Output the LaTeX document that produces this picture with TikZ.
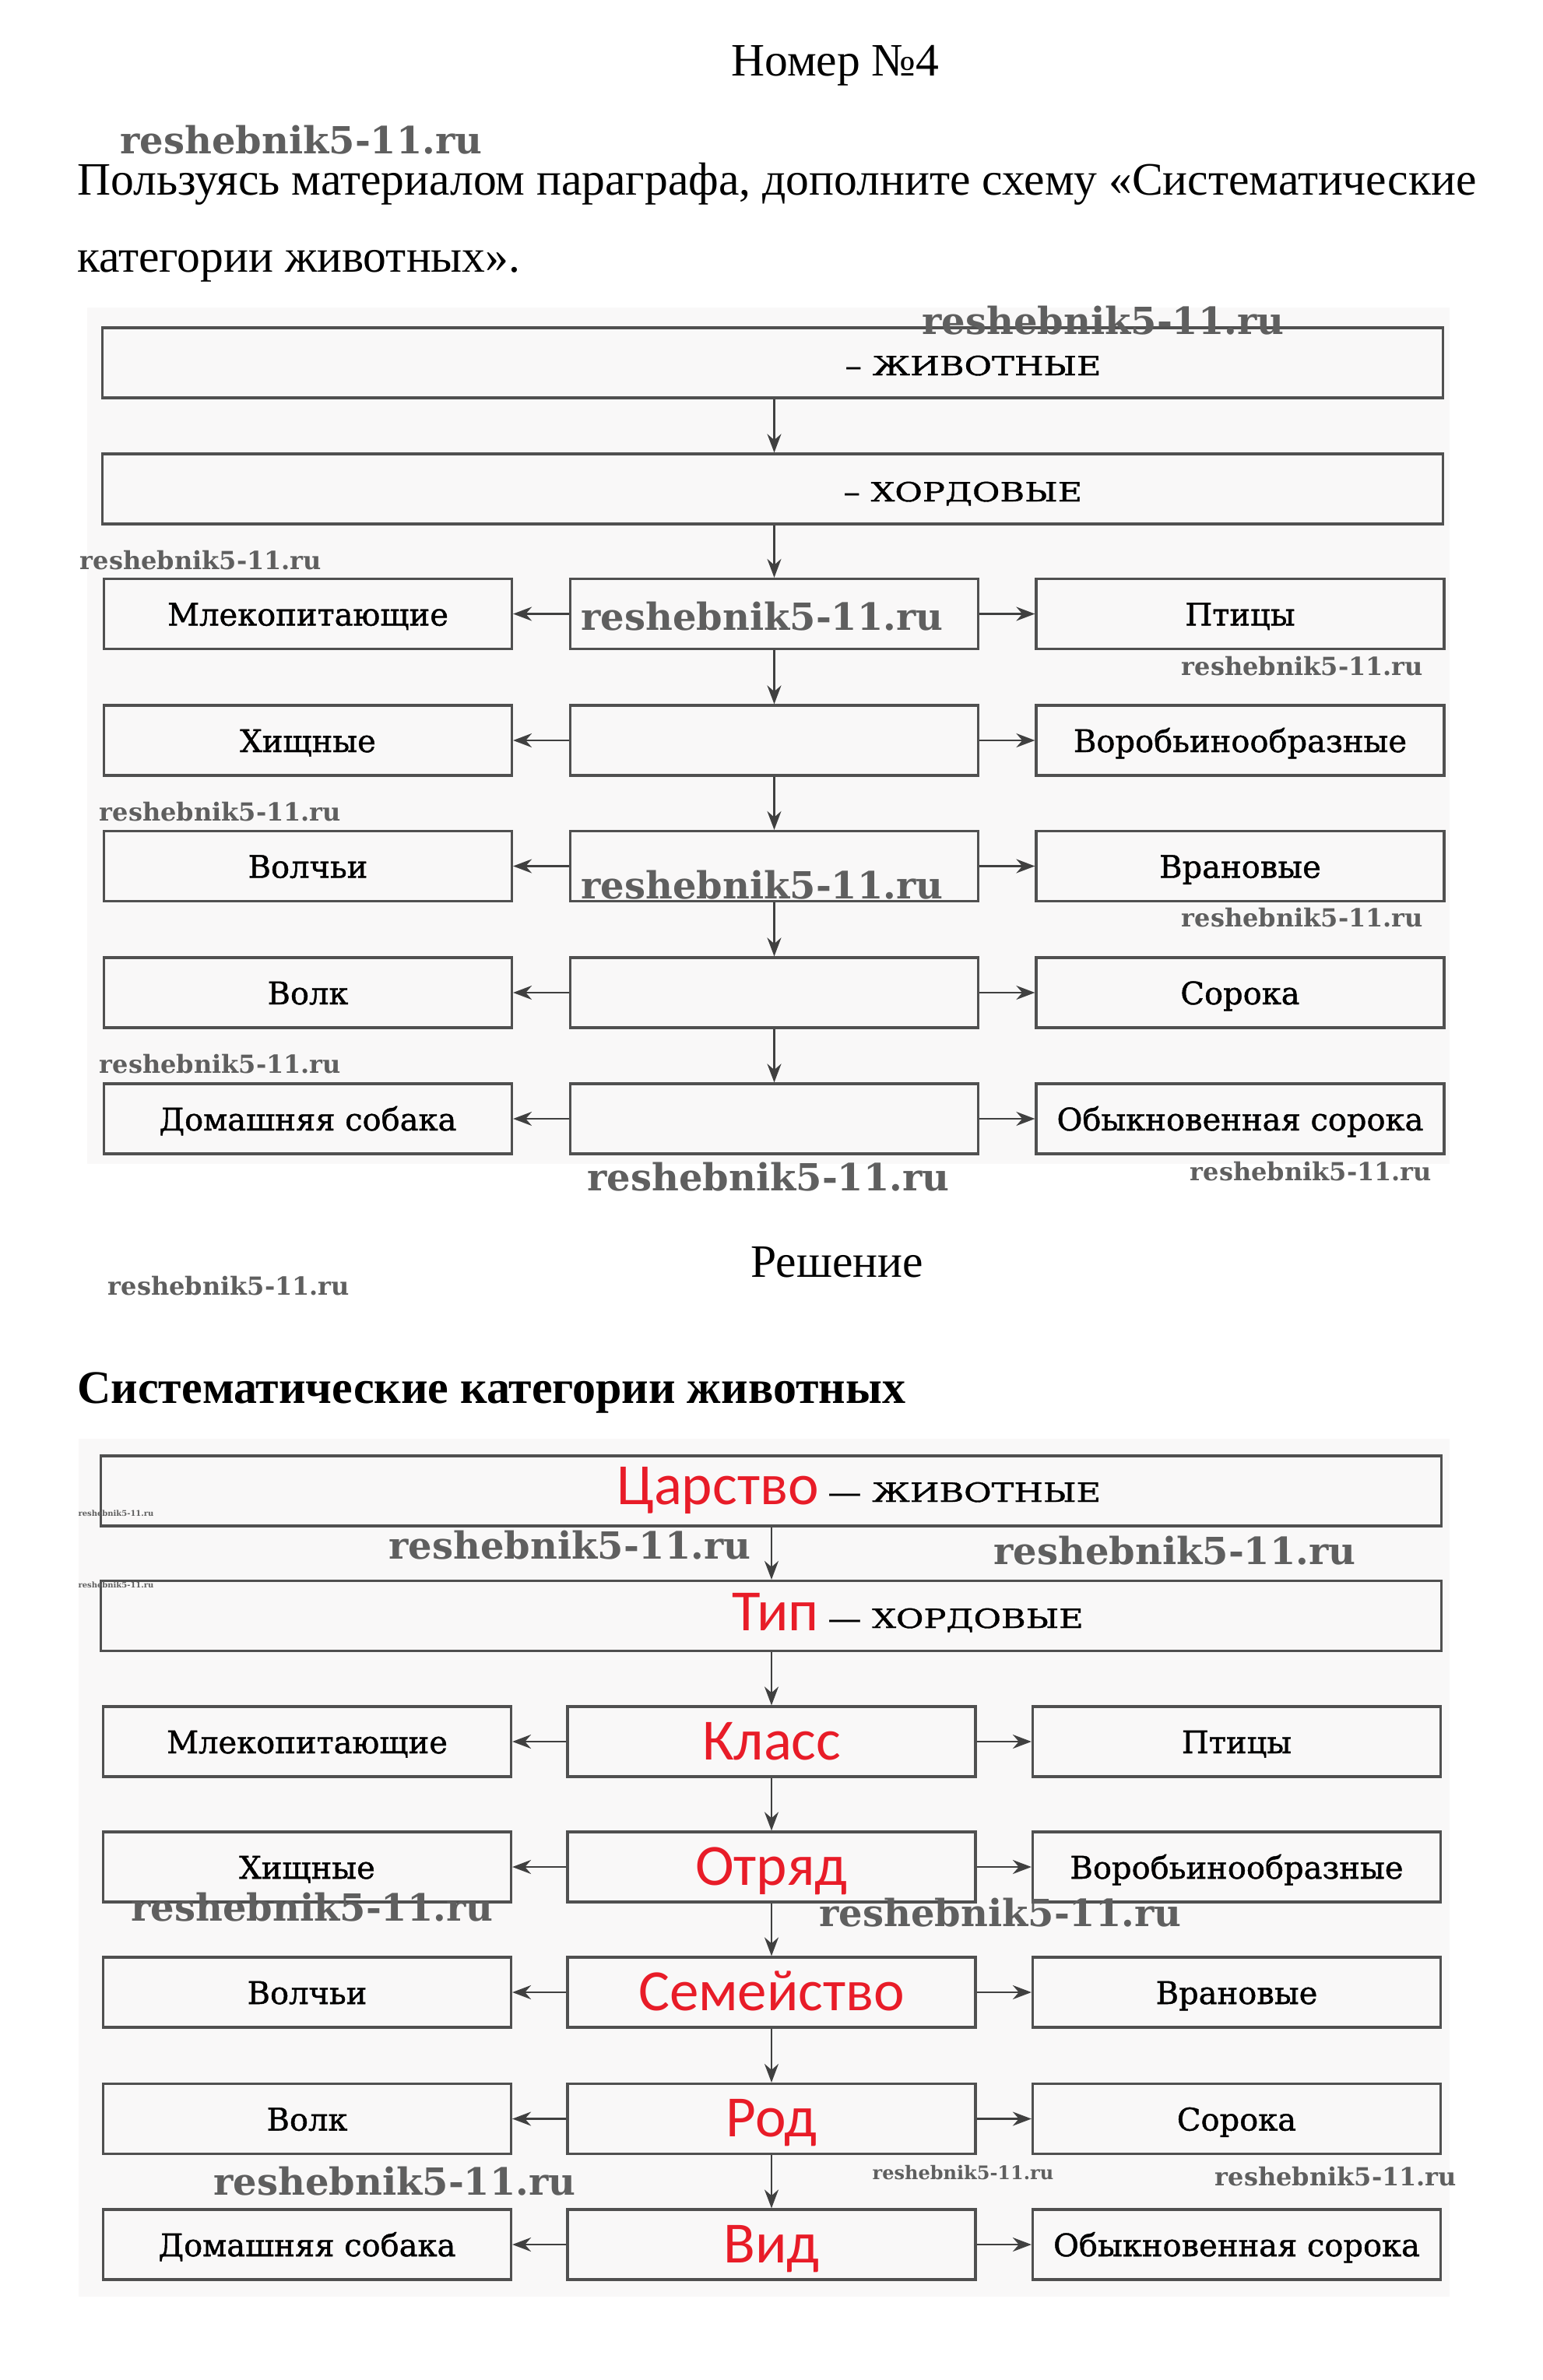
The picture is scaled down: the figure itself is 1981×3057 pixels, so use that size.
\documentclass[tikz,border=0pt]{standalone}
\usepackage{fontspec}
\setmainfont{Liberation Serif}
\newfontfamily\boxfont[FakeBold=1.1]{DejaVu Serif}
\newfontfamily\capfont[FakeStretch=1.27,FakeBold=1.1]{DejaVu Serif}
\newfontfamily\redfont{Carlito}
\newfontfamily\wmfont{DejaVu Serif}
\usetikzlibrary{arrows.meta}
\definecolor{redtxt}{RGB}{232,28,40}
\definecolor{boxline}{RGB}{80,80,80}
\definecolor{scanbg}{RGB}{249,248,248}
\definecolor{wmgray}{RGB}{95,95,95}
\begin{document}
\begin{tikzpicture}[x=0.5pt,y=-0.5pt,
  every node/.style={inner sep=0pt},
  title/.style={font=\fontsize{29.8}{35}\selectfont},
  bigbox/.style={draw=boxline,line width=1.6pt,minimum width=861pt,minimum height=45pt},
  cell/.style={draw=boxline,line width=1.6pt,minimum width=262pt,minimum height=45pt,
     font=\boxfont\fontsize{20}{20}\selectfont,text height=15pt,text depth=0pt},
  redcell/.style={cell,font=\redfont\fontsize{37.5}{37.5}\selectfont,text=redtxt,text height=23pt},
  captxt/.style={font=\capfont\fontsize{17}{17}\selectfont},
  redword/.style={font=\redfont\fontsize{37.5}{37.5}\selectfont,text=redtxt},
  conn/.style={draw=black!75,line width=1.25pt,-{Stealth[length=12pt,width=9pt]}},
  wm/.style={font=\wmfont\bfseries\fontsize{#1}{#1}\selectfont,text=wmgray},
]
\useasboundingbox (0,0) rectangle (1981,3057);
\fill[white] (0,0) rectangle (1981,3057);
\fill[scanbg] (112,395) rectangle (1862,1495);
\fill[scanbg] (101,1848) rectangle (1862,2950);

% ---- texts
\node[title,anchor=base] (hdr) at (1073,97) {Номер №4};
\node[title,anchor=base west] (p1) at (99,250) {Пользуясь материалом параграфа, дополните схему «Систематические};
\node[title,anchor=base west] (p2) at (99,349) {категории животных».};
\node[title,anchor=base] (sol) at (1075,1640) {Решение};
\node[title,font=\bfseries\fontsize{30}{35}\selectfont,anchor=base west] (hd2) at (99,1802) {Систематические категории животных};

% ---- diagram 1
\node[bigbox] (A1) at (992.5,466) {};
\node[bigbox] (B1) at (992.5,628) {};
\node[captxt,anchor=base west] (A1t) at (1085,482) {– ЖИВОТНЫЕ};
\node[captxt,anchor=base west] (B1t) at (1083,644) {– ХОРДОВЫЕ};
\foreach \i/\yy/\l/\r in {3/788.5/Млекопитающие/Птицы,4/951/Хищные/Воробьинообразные,5/1112.5/Волчьи/Врановые,6/1275/Волк/Сорока,7/1437/Домашняя собака/Обыкновенная сорока}{
  \node[cell] (L\i) at (395.5,\yy) {\l};
  \node[cell] (M\i) at (994.5,\yy) {};
  \node[cell] (R\i) at (1593,\yy) {\r};
  \draw[conn] (M\i.west) -- (L\i.east);
  \draw[conn] (M\i.east) -- (R\i.west);
}
\draw[conn] (A1.south -| M3.north) -- (B1.north -| M3.north);
\draw[conn] (B1.south -| M3.north) -- (M3.north);
\foreach \j/\i in {3/4,4/5,5/6,6/7}{\draw[conn] (M\j.south) -- (M\i.north);}

% ---- diagram 2
\node[bigbox] (A2) at (990.5,1915) {};
\node[bigbox] (B2) at (990.5,2075.5) {};
\node[redword,anchor=base east] (A2r) at (1052,1932) {Царство};
\node[captxt,anchor=base west] (A2t) at (1063,1929) {— ЖИВОТНЫЕ};
\node[redword,anchor=base east] (B2r) at (1052,2094) {Тип};
\node[captxt,anchor=base west] (B2t) at (1063,2091) {— ХОРДОВЫЕ};
\foreach \i/\yy/\l/\m/\r in {3/2237/Млекопитающие/Класс/Птицы,4/2398/Хищные/Отряд/Воробьинообразные,5/2559/Волчьи/Семейство/Врановые,6/2721.5/Волк/Род/Сорока,7/2883/Домашняя собака/Вид/Обыкновенная сорока}{
  \node[cell] (P\i) at (394.5,\yy) {\l};
  \node[redcell] (Q\i) at (991,\yy) {\m};
  \node[cell] (S\i) at (1588.5,\yy) {\r};
  \draw[conn] (Q\i.west) -- (P\i.east);
  \draw[conn] (Q\i.east) -- (S\i.west);
}
\draw[conn] (A2.south -| Q3.north) -- (B2.north -| Q3.north);
\draw[conn] (B2.south -| Q3.north) -- (Q3.north);
\foreach \j/\i in {3/4,4/5,5/6,6/7}{\draw[conn] (Q\j.south) -- (Q\i.north);}

% ---- watermarks
\foreach \xx/\yy/\s [count=\k] in {387/180/24,1417/412/24,979/792/24,979/1137/24,987/1512/24,
   732/1985/24,1509/1992/24,401/2450/24,1285/2457/24,507/2802/24,
   258/720/16,1673/856/16,283/1043/16,1673/1179/16,283/1367/16,1684/1505/16,294/1652/16,1716/2796/16,
   1237/2791/12,149/1944/5,149/2036/5}{
  \node[wm=\s] (wm\k) at (\xx,\yy) {reshebnik5-11.ru};
}
\end{tikzpicture}
\end{document}
